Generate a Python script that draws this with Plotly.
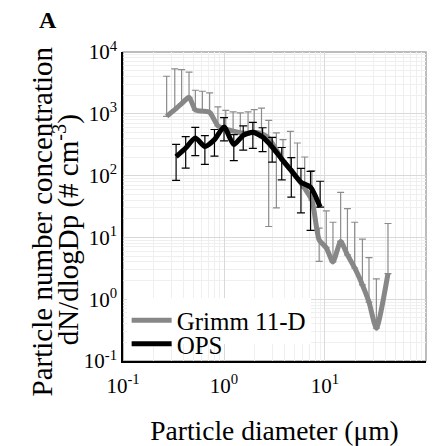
import numpy as np
import plotly.graph_objects as go

# Grimm 11-D (gray) - diameter in um, dN/dlogDp, +/- error
grimm_d = [0.27, 0.325, 0.38, 0.45, 0.52, 0.61, 0.72, 0.87, 1.04, 1.23, 1.45, 1.73, 1.99,
           2.35, 2.77, 3.3, 3.84, 4.54, 5.33, 6.3, 7.43, 8.76, 10.3, 12.0, 14.3, 16.7,
           19.7, 23.5, 27.3, 32.3, 42.1]
grimm_n = [910, 1170, 1460, 1850, 1150, 1105, 1055, 640, 565, 525, 495, 485, 505,
           478, 400, 260, 174, 126, 91, 62, 40, 9.1, 6.8, 4.0, 8.6, 5.2,
           3.2, 1.7, 0.9, 0.34, 2.6]
grimm_err = [3145, 4180, 3740, 2860, 1255, 1210, 1125, 650, 570, 550, 540, 590, 665,
             760, 385, 230, 208, 394, 246, 138, 80, 5, 20, 13.6, 45, 24,
             14.4, 7.7, 3.8, 1.8, 14.2]

# OPS (black)
ops_d = [0.335, 0.417, 0.519, 0.646, 0.804, 1.0, 1.25, 1.55, 1.93, 2.41, 3.0, 3.73,
         4.64, 5.78, 7.2, 8.96]
ops_n = [202, 280, 406, 297, 382, 614, 317, 449, 501, 420, 290, 185, 120, 78, 65, 31]
ops_err = [118, 148, 195, 145, 175, 250, 142, 190, 225, 175, 125, 100, 75, 53, 52, 50]

x_tickvals = [0.1, 1, 10, 100]
x_ticktext = ["10<sup>-1</sup>", "10<sup>0</sup>", "10<sup>1</sup>", "10<sup>2</sup>"]
y_tickvals = [0.1, 1, 10, 100, 1000, 10000]
y_ticktext = ["10<sup>-1</sup>", "10<sup>0</sup>", "10<sup>1</sup>", "10<sup>2</sup>",
              "10<sup>3</sup>", "10<sup>4</sup>"]
y_title_lines = ["Particle number concentration", "dN/dlogDp (# cm<sup>-3</sup>)"]

FONT = "Liberation Serif"


def lower_err(n, e):
    # on a log axis excel just drops the lower bar when it would go below zero
    n = np.array(n, dtype=float)
    e = np.array(e, dtype=float)
    return np.where(e < n, e, 0)


fig = go.Figure()

fig.add_trace(go.Scatter(
    x=grimm_d, y=grimm_n, mode="lines", name="Grimm 11-D",
    line=dict(color="#878787", width=5, shape="spline", smoothing=0.6),
    error_y=dict(type="data", symmetric=False, array=grimm_err,
                 arrayminus=lower_err(grimm_n, grimm_err),
                 color="#8c8c8c", thickness=1.2, width=3.5),
    legend="legend",
))
fig.add_trace(go.Scatter(
    x=ops_d, y=ops_n, mode="lines", name="OPS",
    line=dict(color="black", width=5, shape="spline", smoothing=0.6),
    error_y=dict(type="data", symmetric=False, array=ops_err,
                 arrayminus=lower_err(ops_n, ops_err),
                 color="black", thickness=1.2, width=4),
    legend="legend2",
))

axis_common = dict(
    type="log", automargin=False, tickangle=0,
    showgrid=True, gridcolor="#d9d9d9", gridwidth=1,
    minor=dict(dtick="D1", showgrid=True, gridcolor="#efefef", gridwidth=1),
    showline=True, linecolor="black", linewidth=1.5,
    ticks="", zeroline=False,
    tickfont=dict(family=FONT, size=21, color="black"),
)

# page body has an 8px margin, so the figure is sized to fit the window
fig.update_layout(
    width=432, height=438,
    margin=dict(l=115, r=14, t=44, b=85),
    paper_bgcolor="white", plot_bgcolor="white",
    font=dict(family=FONT, color="black"),
    showlegend=True,
    xaxis=dict(axis_common, range=[-1.001, 2.001], tickvals=x_tickvals, ticktext=x_ticktext,
               ticklabelstandoff=5,
               title=dict(text="Particle diameter (\u03bcm)",
                          font=dict(family=FONT, size=27.5), standoff=31)),
    yaxis=dict(axis_common, range=[-1, 4], tickvals=y_tickvals, ticktext=y_ticktext),
    legend=dict(x=0.012, y=0.131, xanchor="left", yanchor="middle",
                bgcolor="white", font=dict(family=FONT, size=25), itemwidth=40),
    legend2=dict(x=0.012, y=0.055, xanchor="left", yanchor="middle",
                 bgcolor="rgba(0,0,0,0)", font=dict(family=FONT, size=25), itemwidth=40),
    annotations=[
        dict(text="<b>A</b>", xref="paper", yref="paper", x=-0.249, y=1.105,
             xanchor="center", yanchor="middle",
             showarrow=False, font=dict(family=FONT, size=24)),
        dict(text=y_title_lines[0], xref="paper", yref="paper", x=-0.267, y=0.452,
             xanchor="center", yanchor="middle", textangle=-90,
             showarrow=False, font=dict(family=FONT, size=29)),
        dict(text=y_title_lines[1], xref="paper", yref="paper", x=-0.188, y=0.423,
             xanchor="center", yanchor="middle", textangle=-90,
             showarrow=False, font=dict(family=FONT, size=29)),
    ],
    shapes=[dict(type="rect", xref="paper", yref="paper", x0=0, y0=0, x1=1, y1=1,
                 line=dict(color="#a6a6a6", width=1.5), layer="below")],
)

fig.write_html("out.html")
